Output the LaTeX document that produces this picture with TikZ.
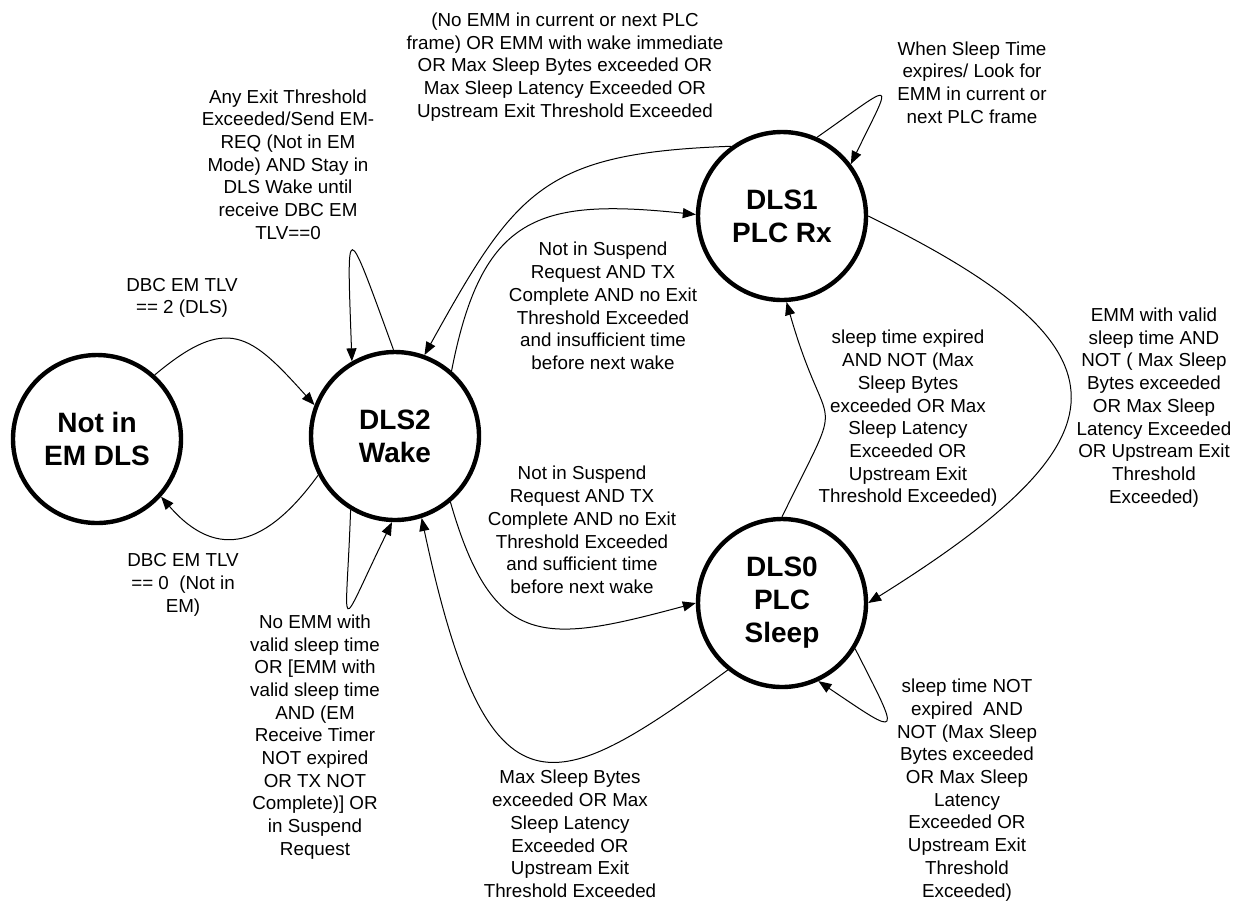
\documentclass[tikz,border=0pt]{standalone}
\usepackage{fontspec}
\setmainfont{Liberation Sans}
\usepackage{tikz}
\usetikzlibrary{arrows.meta}

\begin{document}
\begin{tikzpicture}[
  x=0.5pt, y=0.5pt,
  state/.style={circle, draw, line width=2.2pt, minimum size=84pt, inner sep=0pt,
    font=\bfseries\fontsize{14}{16.5}\selectfont, align=center},
  trans/.style={-{Triangle[length=6.5pt, width=5pt]}, line width=0.5pt},
  lbl/.style={font=\fontsize{9.4}{11.35}\selectfont, align=center, inner sep=0pt},
]
  \useasboundingbox (0,0) rectangle (1234,-901);
  \node[state] (notem) at (97,-439) {Not in\\EM DLS};
  \node[state] (wake) at (395,-436) {DLS2\\Wake};
  \node[state] (rx) at (782,-216) {DLS1\\PLC Rx};
  \node[state] (sleep) at (782,-603) {DLS0\\PLC\\Sleep};

  \draw[trans] (notem.48) to[out=40, in=132, looseness=1.5] (wake.159);
  \draw[trans] (wake.207) to[out=234, in=311, looseness=1.4] (notem.318);
  \draw[trans] (wake.91) to[out=110, in=92, looseness=8.5] (wake.120);
  \draw[trans] (wake.239) to[out=268, in=244, looseness=7.6] (wake.268);
  \draw[trans] (rx.126) to[out=182, in=61, looseness=1.3] (wake.70);
  \draw[trans] (wake.49) to[out=79, in=174, looseness=1.4] (rx.179);
  \draw[trans] (wake.310) to[out=286, in=195, looseness=1.5] (sleep.180);
  \draw[trans] (sleep.231) to[out=216, in=282, out looseness=1.6, in looseness=2.4] (wake.288);
  \draw[trans] (sleep.90) to[out=64, in=286, looseness=1.8] (rx.273);
  \draw[trans] (rx.0) to[out=-26, in=32, looseness=2.04] (sleep.0);
  \draw[trans] (rx.66) to[out=35, in=64, looseness=5.8] (rx.37);
  \draw[trans] (sleep.-32) to[out=-63, in=-34, looseness=5.3] (sleep.-65);

  \node[lbl] (l_enter) at (182,-298) {DBC EM TLV\\== 2 (DLS)};
  \node[lbl] (l_leave) at (183,-585) {DBC EM TLV\\== 0 \ (Not in\\EM)};
  \node[lbl] (l_wakeup) at (288,-164.5) {Any Exit Threshold\\Exceeded/Send EM-\\REQ (Not in EM\\Mode) AND Stay in\\DLS Wake until\\receive DBC EM\\TLV==0};
  \node[lbl] (l_wakedn) at (315,-737) {No EMM with\\valid sleep time\\OR [EMM with\\valid sleep time\\AND (EM\\Receive Timer\\NOT expired\\OR TX NOT\\Complete)] OR\\in Suspend\\Request};
  \node[lbl] (l_back) at (565,-67) {(No EMM in current or next PLC\\frame) OR EMM with wake immediate\\OR Max Sleep Bytes exceeded OR\\Max Sleep Latency Exceeded OR\\Upstream Exit Threshold Exceeded};
  \node[lbl] (l_short) at (603,-306) {Not in Suspend\\Request AND TX\\Complete AND no Exit\\Threshold Exceeded\\and insufficient time\\before next wake};
  \node[lbl] (l_long) at (582,-530) {Not in Suspend\\Request AND TX\\Complete AND no Exit\\Threshold Exceeded\\and sufficient time\\before next wake};
  \node[lbl] (l_abort) at (570,-834) {Max Sleep Bytes\\exceeded OR Max\\Sleep Latency\\Exceeded OR\\Upstream Exit\\Threshold Exceeded};
  \node[lbl] (l_expire) at (908,-418.5) {sleep time expired\\AND NOT (Max\\Sleep Bytes\\exceeded OR Max\\Sleep Latency\\Exceeded OR\\Upstream Exit\\Threshold Exceeded)};
  \node[lbl] (l_emm) at (1154,-407.5) {EMM with valid\\sleep time AND\\NOT ( Max Sleep\\Bytes exceeded\\OR Max Sleep\\Latency Exceeded\\OR Upstream Exit\\Threshold\\Exceeded)};
  \node[lbl] (l_look) at (972,-82.5) {When Sleep Time\\expires/ Look for\\EMM in current or\\next PLC frame};
  \node[lbl] (l_stay) at (967,-790) {sleep time NOT\\expired \ AND\\NOT (Max Sleep\\Bytes exceeded\\OR Max Sleep\\Latency\\Exceeded OR\\Upstream Exit\\Threshold\\Exceeded)};
\end{tikzpicture}
\end{document}
